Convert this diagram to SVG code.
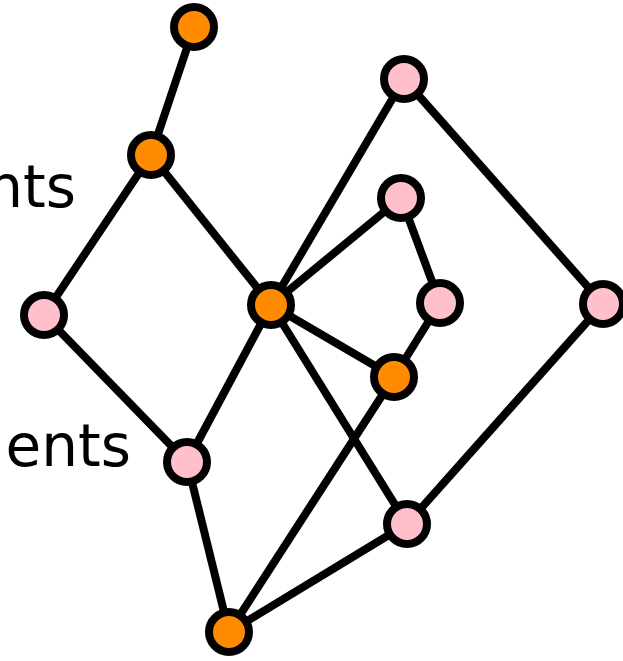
<svg xmlns="http://www.w3.org/2000/svg" width="623" height="661" viewBox="0 0 623 661">
  <style>
    .edge { stroke: #000; stroke-width: 8; fill: none; stroke-linecap: butt; }
    .node { stroke: #000; stroke-width: 8; }
    .hub { fill: #ff8c00; }
    .leaf { fill: #ffc0cb; }
    .label { font-family: "DejaVu Sans", "Liberation Sans", sans-serif; font-size: 58px; fill: #000; text-anchor: end; }
  </style>
  <rect width="623" height="661" fill="#fff"/>

  <text class="label" x="76" y="207">nts</text>
  <text class="label" x="131" y="466">ents</text>

  <g id="connectors">
    <line class="edge" x1="194" y1="27" x2="151" y2="155"/>
    <line class="edge" x1="151" y1="155" x2="44" y2="315"/>
    <line class="edge" x1="151" y1="155" x2="271" y2="305"/>
    <line class="edge" x1="44" y1="315" x2="187" y2="462"/>
    <line class="edge" x1="271" y1="305" x2="187" y2="462"/>
    <line class="edge" x1="187" y1="462" x2="229" y2="632"/>
    <line class="edge" x1="271" y1="305" x2="404" y2="79"/>
    <line class="edge" x1="271" y1="305" x2="401" y2="198"/>
    <line class="edge" x1="401" y1="198" x2="440" y2="303"/>
    <line class="edge" x1="440" y1="303" x2="394" y2="377"/>
    <line class="edge" x1="271" y1="305" x2="394" y2="377"/>
    <line class="edge" x1="271" y1="305" x2="407" y2="524"/>
    <line class="edge" x1="394" y1="377" x2="229" y2="632"/>
    <line class="edge" x1="407" y1="524" x2="229" y2="632"/>
    <line class="edge" x1="404" y1="79" x2="603" y2="304"/>
    <line class="edge" x1="603" y1="304" x2="407" y2="524"/>
  </g>

  <g id="n-top"><circle class="node hub" cx="194" cy="27" r="20"/></g>
  <g id="n-upper"><circle class="node hub" cx="151" cy="155" r="20"/></g>
  <g id="n-left"><circle class="node leaf" cx="44" cy="315" r="20"/></g>
  <g id="n-center"><circle class="node hub" cx="271" cy="305" r="20"/></g>
  <g id="n-lower-left"><circle class="node leaf" cx="187" cy="462" r="20"/></g>
  <g id="n-bottom"><circle class="node hub" cx="229" cy="632" r="20"/></g>
  <g id="n-top-right"><circle class="node leaf" cx="404" cy="79" r="20"/></g>
  <g id="n-inner-top"><circle class="node leaf" cx="401" cy="198" r="20"/></g>
  <g id="n-inner-right"><circle class="node leaf" cx="440" cy="303" r="20"/></g>
  <g id="n-inner-hub"><circle class="node hub" cx="394" cy="377" r="20"/></g>
  <g id="n-far-right"><circle class="node leaf" cx="603" cy="304" r="20"/></g>
  <g id="n-lower-right"><circle class="node leaf" cx="407" cy="524" r="20"/></g>
</svg>
